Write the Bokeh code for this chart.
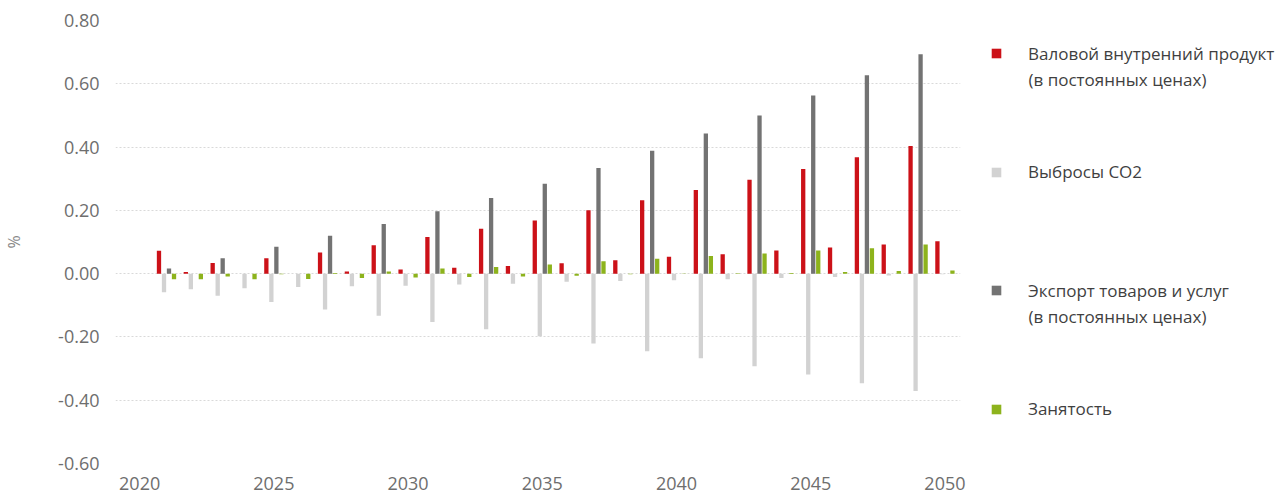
from bokeh.plotting import figure
from bokeh.layouts import row
from bokeh.models import (ColumnDataSource, Range1d, Legend, LegendItem, FixedTicker,
                          NumeralTickFormatter, Label)
from bokeh.transform import dodge
from bokeh.embed import file_html
from bokeh.resources import INLINE

years = list(range(2021, 2051))

gdp = [0.072, 0.005, 0.034, 0.000, 0.049, 0.000, 0.067, 0.007, 0.090, 0.013,
       0.116, 0.019, 0.142, 0.024, 0.168, 0.033, 0.200, 0.042, 0.232, 0.053,
       0.264, 0.061, 0.297, 0.073, 0.331, 0.083, 0.368, 0.092, 0.403, 0.102]

co2 = [-0.059, -0.049, -0.070, -0.046, -0.090, -0.042, -0.113, -0.040, -0.133, -0.038,
       -0.153, -0.034, -0.176, -0.032, -0.198, -0.026, -0.221, -0.023, -0.245, -0.021,
       -0.267, -0.018, -0.293, -0.014, -0.319, -0.011, -0.346, -0.006, -0.371, -0.002]

export = [0.016, 0.0, 0.049, 0.0, 0.085, 0.0, 0.120, 0.0, 0.157, 0.0,
          0.197, 0.0, 0.239, 0.0, 0.284, 0.0, 0.334, 0.0, 0.388, 0.0,
          0.443, 0.0, 0.500, 0.0, 0.563, 0.0, 0.627, 0.0, 0.693, 0.0]

employment = [-0.018, -0.018, -0.009, -0.018, -0.002, -0.017, 0.002, -0.014, 0.007, -0.012,
              0.016, -0.011, 0.021, -0.009, 0.029, -0.007, 0.039, -0.002, 0.047, -0.001,
              0.056, 0.001, 0.064, 0.002, 0.073, 0.005, 0.080, 0.008, 0.092, 0.010]

series_first_lines = [
    "Валовой внутренний продукт",
    "Выбросы CO2",
    "Экспорт товаров и услуг",
    "Занятость",
]
series_second_lines = ["(в постоянных ценах)", "", "(в постоянных ценах)", ""]
series_keys = ["gdp", "co2", "export", "employment"]
series_colors = ["#CC1118", "#D2D2D2", "#737373", "#8DB31C"]
offsets = [-0.28, -0.093, 0.093, 0.28]

y_ticks = [-0.6, -0.4, -0.2, 0.0, 0.2, 0.4, 0.6, 0.8]
x_ticks = [2020, 2025, 2030, 2035, 2040, 2045, 2050]

source = ColumnDataSource(dict(year=years, gdp=gdp, co2=co2, export=export, employment=employment))

# ---------------- main chart ----------------
p = figure(width=975, height=497, output_backend="svg", toolbar_location=None,
           x_range=Range1d(2019.1, 2050.58), y_range=Range1d(-0.6, 0.8),
           min_border_left=115, min_border_right=15, min_border_top=20, min_border_bottom=34)
p.outline_line_color = None
p.background_fill_color = "white"
p.border_fill_color = "white"

for key, color, off in zip(series_keys, series_colors, offsets):
    p.vbar(x=dodge("year", off, range=p.x_range), top=key, bottom=0, width=0.16,
           source=source, fill_color=color, line_color=None)

p.xgrid.grid_line_color = None
p.ygrid.grid_line_color = "#D9D9D9"
p.ygrid.grid_line_dash = "2 2"
p.ygrid.grid_line_width = 1
p.ygrid.ticker = FixedTicker(ticks=y_ticks)

for ax in (p.xaxis[0], p.yaxis[0]):
    ax.axis_line_color = None
    ax.major_tick_line_color = None
    ax.minor_tick_line_color = None
    ax.major_label_text_font = "Open Sans"
    ax.major_label_text_font_size = "18px"
    ax.major_label_text_color = "#6E6E6E"

p.yaxis[0].ticker = FixedTicker(ticks=y_ticks)
p.yaxis[0].formatter = NumeralTickFormatter(format="0.00")
p.yaxis[0].major_label_standoff = 10
p.yaxis[0].axis_label = "%"
p.yaxis[0].axis_label_text_font = "Open Sans"
p.yaxis[0].axis_label_text_font_style = "normal"
p.yaxis[0].axis_label_text_font_size = "16px"
p.yaxis[0].axis_label_text_color = "#8A8A8A"
p.yaxis[0].axis_label_standoff = 30

p.xaxis[0].ticker = FixedTicker(ticks=x_ticks)
p.xaxis[0].major_label_standoff = 7

# ---------------- legend panel ----------------
lp = figure(width=303, height=497, output_backend="svg", toolbar_location=None,
            x_range=Range1d(0, 1), y_range=Range1d(0, 1),
            min_border=0, min_border_left=0, min_border_right=0,
            min_border_top=20, min_border_bottom=34)
lp.axis.visible = False
lp.grid.visible = False
lp.outline_line_color = None
lp.background_fill_color = "white"
lp.border_fill_color = "white"

frame_bottom = 463  # frames of the row are aligned with the main chart
entry_step = 118.5
first_center = 53
for i, (first, second, color) in enumerate(zip(series_first_lines, series_second_lines, series_colors)):
    dummy = lp.vbar(x=[-10], top=[0], width=0.1, fill_color=color, line_color=None)
    center = first_center + i * entry_step
    lg = Legend(items=[LegendItem(label=first, renderers=[dummy])],
                location=(15, frame_bottom - (center + 12)),
                glyph_width=12, glyph_height=12, label_standoff=26,
                label_height=24,
                label_text_font="Open Sans", label_text_font_size="17px",
                label_text_color="#3F3F3F",
                padding=0, margin=0, border_line_color=None, background_fill_alpha=0)
    lp.add_layout(lg, "center")
    if second:
        lp.add_layout(Label(x=53, y=frame_bottom - (center + 25.5), x_units="screen", y_units="screen",
                            text=second, text_baseline="middle",
                            text_font="Open Sans", text_font_size="17px",
                            text_color="#3F3F3F"))

layout = row(p, lp, spacing=0)
open("out.html", "w").write(file_html(layout, INLINE))
